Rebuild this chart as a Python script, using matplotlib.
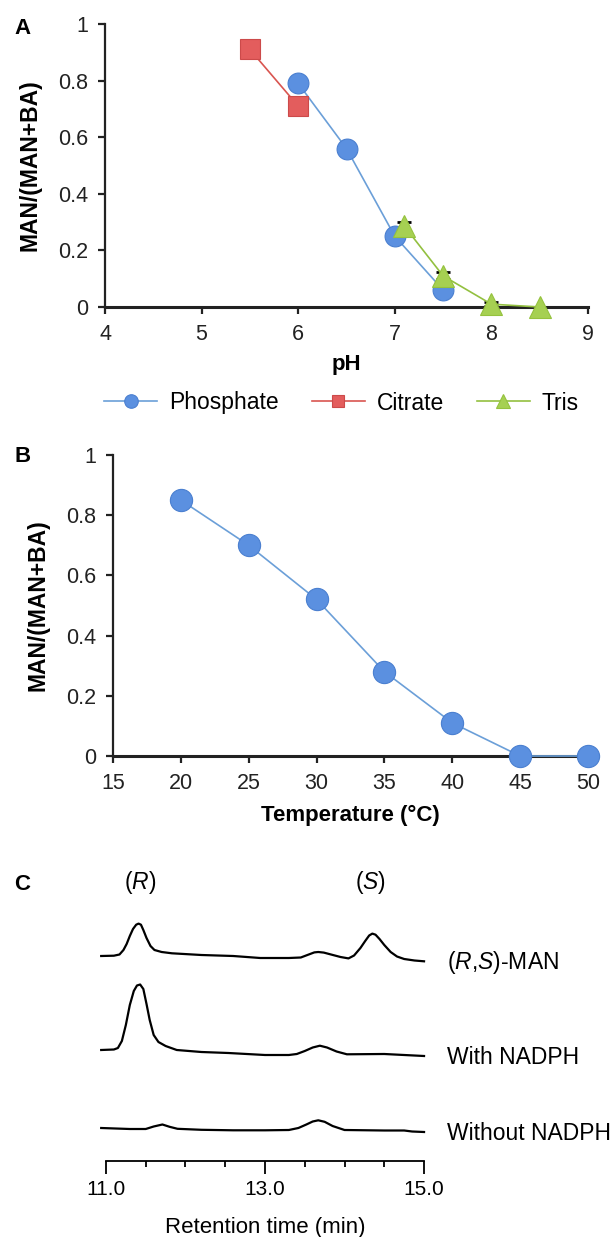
import matplotlib
matplotlib.use("Agg")
import matplotlib.pyplot as plt
import numpy as np

plt.rcParams['font.family'] = ['Liberation Sans', 'DejaVu Sans']
plt.rcParams['mathtext.fontset'] = 'custom'
plt.rcParams['mathtext.rm'] = 'Liberation Sans'
plt.rcParams['mathtext.it'] = 'Liberation Sans:italic'

# Panel A: pH profile
ph_phosphate = [6.0, 6.5, 7.0, 7.5]
val_phosphate = [0.79, 0.56, 0.25, 0.06]
ph_citrate = [5.5, 6.0]
val_citrate = [0.91, 0.71]
ph_tris = [7.1, 7.5, 8.0, 8.5]
val_tris = [0.285, 0.11, 0.01, 0.0]
err_tris = [0.015, 0.012, 0.008, 0.0]

# Panel B: temperature profile
temp = [20, 25, 30, 35, 40, 45, 50]
val_temp = [0.85, 0.70, 0.52, 0.28, 0.11, 0.0, 0.0]

# Panel C: chromatograms (retention time, signal relative to start)
t_rs = [10.94, 11.10, 11.17, 11.22, 11.26, 11.30, 11.34, 11.38, 11.41, 11.44, 11.47, 11.51,
        11.56, 11.61, 11.70, 11.83, 12.2, 12.6, 12.94, 13.3, 13.45, 13.55, 13.62, 13.67,
        13.74, 13.83, 13.95, 14.05, 14.12, 14.2, 14.26, 14.31, 14.35, 14.39, 14.44, 14.5,
        14.58, 14.66, 14.75, 14.88, 15.0]
s_rs = [0, 0.3, 1.5, 6, 12, 20, 27, 31.3, 32.4, 31.3, 26, 18,
        10, 6, 4, 2.7, 1, 0, -2, -2, -1.5, 1.5, 3.6, 4,
        3.4, 1.5, -1, -2.4, 0.5, 8, 15, 20.5, 22.4, 21.3, 17, 11,
        4, -0.5, -3, -4.5, -5.3]
t_with = [10.94, 11.10, 11.15, 11.20, 11.25, 11.30, 11.35, 11.39, 11.43, 11.47, 11.51, 11.55,
          11.60, 11.66, 11.75, 11.89, 12.2, 12.54, 13.0, 13.3, 13.4, 13.5, 13.6, 13.69,
          13.78, 13.9, 14.03, 14.5, 15.0]
s_with = [0, 0.5, 2, 9, 25, 45, 59, 64.5, 65.5, 61, 46, 30,
          15, 8, 4, 0, -2, -3, -5, -5, -4, -1, 2.5, 4.3,
          2.5, -1.5, -4.3, -4, -6]
t_without = [10.94, 11.30, 11.50, 11.60, 11.71, 11.80, 11.90, 12.2, 12.6, 13.0, 13.3, 13.42,
             13.52, 13.60, 13.67, 13.75, 13.85, 14.0, 14.5, 14.75, 14.85, 15.0]
s_without = [0, -1, -1, 1.5, 3.5, 1.2, -0.8, -1.8, -2.3, -2.3, -2.0, 0,
             3.5, 6.5, 7.7, 6.2, 2, -2, -2.5, -2.5, -3.5, -4]
trace_offsets = [205, 111, 33]
trace_names = ['($\\mathit{R}$,$\\mathit{S}$)-MAN', 'With NADPH', 'Without NADPH']

W, H = 613, 1237
fig = plt.figure(figsize=(W / 100, H / 100), dpi=100)


def rect(x0, x1, ytop, ybot):
    return [x0 / W, 1 - ybot / H, (x1 - x0) / W, (ybot - ytop) / H]


blue, blue_line = '#5b90e0', '#6b9fd8'
red, red_line = '#e35d5d', '#d95550'
green, green_line = '#a6d052', '#93c040'


def style_axes(ax):
    for s in ['top', 'right']:
        ax.spines[s].set_visible(False)
    ax.spines['left'].set_linewidth(1.6)
    ax.spines['bottom'].set_linewidth(2.2)
    ax.spines['left'].set_color('#222222')
    ax.spines['bottom'].set_color('#222222')
    ax.tick_params(direction='out', length=5, width=1.6, labelsize=15.5, colors='#222222')
    ax.tick_params(axis='x', pad=7)
    ax.tick_params(axis='y', pad=7)
    ax.set_ylim(0, 1)
    ax.set_yticks(np.arange(0, 1.01, 0.2))
    ax.set_yticklabels(['0', '0.2', '0.4', '0.6', '0.8', '1'])
    ax.set_ylabel('MAN/(MAN+BA)', fontsize=16.5, fontweight='bold', labelpad=12)


# ---- Panel A
axA = fig.add_axes(rect(105, 588, 24, 307))
style_axes(axA)
axA.set_xlim(4, 9)
axA.set_xticks(range(4, 10))
axA.errorbar(ph_tris, val_tris, yerr=err_tris, fmt='none', ecolor='black',
             elinewidth=1, capsize=5, capthick=2, zorder=2, clip_on=False)
axA.plot(ph_phosphate, val_phosphate, '-o', color=blue_line, lw=1.2, ms=15,
         mfc=blue, mec='#4a7fd0', mew=0.8, label='Phosphate', zorder=3, clip_on=False)
axA.plot(ph_citrate, val_citrate, '-s', color=red_line, lw=1.2, ms=14,
         mfc=red, mec='#cc4a4a', mew=0.8, label='Citrate', zorder=3, clip_on=False)
axA.plot(ph_tris, val_tris, '-^', color=green_line, lw=1.2, ms=16,
         mfc=green, mec='#95c23e', mew=0.8, label='Tris', zorder=4, clip_on=False)
axA.set_xlabel('pH', fontsize=16, fontweight='bold', labelpad=7)
fig.legend(*axA.get_legend_handles_labels(), loc='center',
           bbox_to_anchor=(341.5 / W, 1 - 403 / H), ncol=3, frameon=False,
           fontsize=16.5, handlelength=2.3, columnspacing=1.45, handletextpad=0.52,
           markerscale=0.65, borderpad=0, borderaxespad=0)
fig.text(14 / W, 1 - 28 / H, 'A', fontsize=16, fontweight='bold', va='center')

# ---- Panel B
axB = fig.add_axes(rect(113, 588, 455, 756))
style_axes(axB)
axB.set_xlim(15, 50)
axB.set_xticks(range(15, 51, 5))
axB.plot(temp, val_temp, '-o', color=blue_line, lw=1.2, ms=16,
         mfc=blue, mec='#4a7fd0', mew=0.8, zorder=3, clip_on=False)
axB.set_xlabel('Temperature (°C)', fontsize=16, fontweight='bold', labelpad=8)
fig.text(14 / W, 1 - 456 / H, 'B', fontsize=16, fontweight='bold', va='center')

# ---- Panel C
axC = fig.add_axes(rect(99.6, 430.4, 900, 1161))
axC.set_xlim(10.92, 15.08)
axC.set_ylim(0, 261)
for s in ['top', 'right', 'left']:
    axC.spines[s].set_visible(False)
axC.spines['bottom'].set_bounds(11, 15)
axC.spines['bottom'].set_linewidth(1.3)
axC.set_yticks([])
axC.set_xticks([11, 13, 15])
axC.set_xticklabels(['11.0', '13.0', '15.0'])
axC.set_xticks(np.arange(11.5, 15, 0.5), minor=True)
axC.tick_params(axis='x', which='major', direction='out', length=9, width=1.3,
                labelsize=15, pad=5)
axC.tick_params(axis='x', which='minor', direction='out', length=4, width=1.3)
traces = [(t_rs, s_rs), (t_with, s_with), (t_without, s_without)]
for (t, s), off, name in zip(traces, trace_offsets, trace_names):
    axC.plot(t, np.array(s) + off, color='black', lw=1.6, solid_joinstyle='round')
    axC.text(15.29, off + s[-1] - 1, name, fontsize=16.5, ha='left', va='center')
axC.text(11.43, 278, '($\\mathit{R}$)', fontsize=16.5, ha='center', va='center')
axC.text(14.33, 278, '($\\mathit{S}$)', fontsize=16.5, ha='center', va='center')
axC.set_xlabel('Retention time (min)', fontsize=16, labelpad=13)
fig.text(14 / W, 1 - 884 / H, 'C', fontsize=16, fontweight='bold', va='center')

fig.savefig('out.png', dpi=100)
